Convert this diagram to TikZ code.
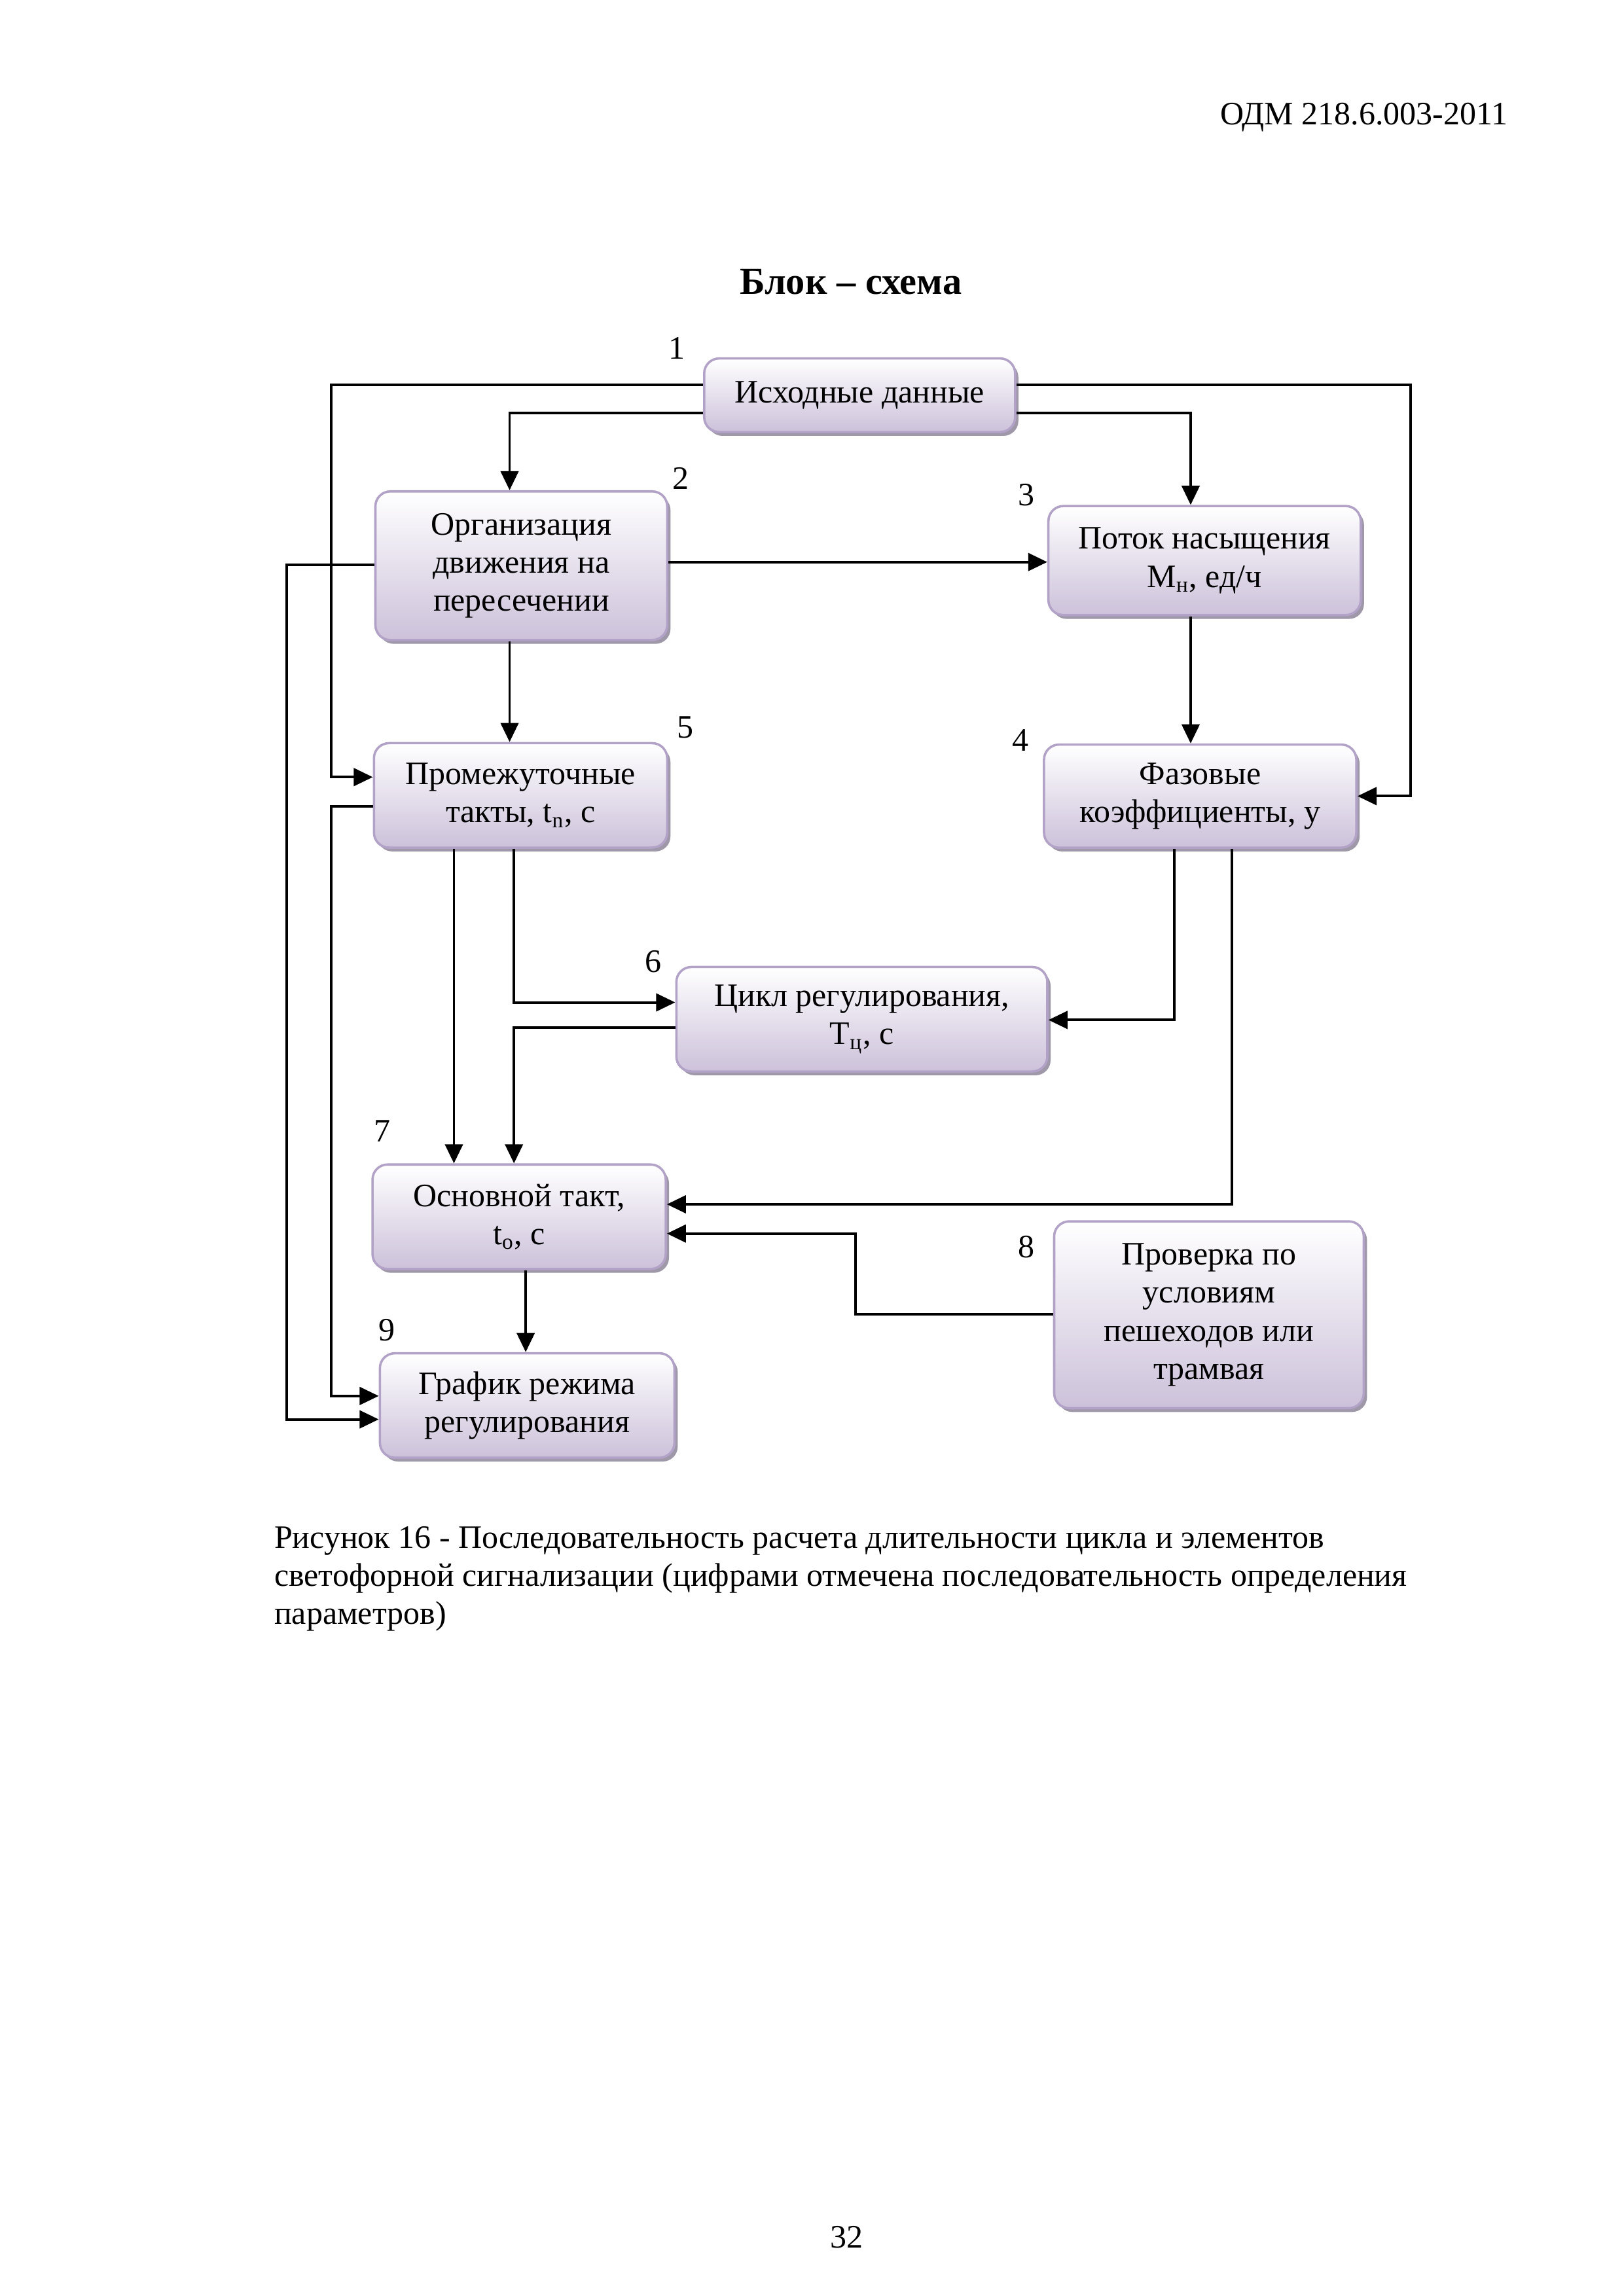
\documentclass[tikz,border=0pt]{standalone}
\usepackage{fontspec}
\setmainfont{Liberation Serif}
\usetikzlibrary{shadows,arrows.meta}
\definecolor{boxedge}{RGB}{178,162,199}
\definecolor{boxbot}{RGB}{204,193,218}
\definecolor{shad}{RGB}{158,152,168}
\begin{document}
\begin{tikzpicture}[
  box/.style={draw=boxedge, line width=0.85pt, rounded corners=5.5pt,
    top color=white, bottom color=boxbot,
    drop shadow={shadow xshift=1.2pt, shadow yshift=-1.4pt, fill=shad, opacity=1},
    align=center, font=\fontsize{12}{14}\selectfont, inner sep=2pt},
  arr/.style={line width=0.95pt, -{Triangle[length=7pt,width=6.5pt]}},
  num/.style={font=\fontsize{12}{14}\selectfont, inner sep=0pt},
  txt/.style={font=\fontsize{12}{14}\selectfont, inner sep=0pt}]
\fill[white] (0pt,0pt) rectangle (595.28pt,-841.89pt);
\useasboundingbox (0pt,0pt) rectangle (595.28pt,-841.89pt);
\begin{scope}[x=0.53699pt, y=-0.53645pt, xshift=0.5pt, yshift=-0.625pt]

\node[txt, anchor=base east] (hdr) at (1029,84) {ОДМ 218.6.003-2011};
\node[txt, anchor=base, font=\fontsize{14}{16}\selectfont\bfseries] (title) at (580,200) {Блок – схема};

\node[box, minimum width=114pt, minimum height=27pt] (b1) at (586,269) {Исходные данные};
\node[box, minimum width=107pt, minimum height=54.5pt] (b2) at (355,385.5) {Организация\\движения на\\пересечении};
\node[box, minimum width=114.5pt, minimum height=40pt] (b3) at (821.5,382) {Поток насыщения\\M\textsubscript{н}, ед/ч};
\node[box, minimum width=114.5pt, minimum height=37.8pt] (b4) at (818.5,543) {Фазовые\\коэффициенты, у};
\node[box, minimum width=107.5pt, minimum height=38.3pt] (b5) at (354.5,542.5) {Промежуточные\\такты, t\textsubscript{n}, с};
\node[box, minimum width=136pt, minimum height=38.3pt] (b6) at (587.5,695.5) {Цикл регулирования,\\T\textsubscript{ц}, с};
\node[box, minimum width=107.5pt, minimum height=38.3pt] (b7) at (353.5,830.5) {Основной такт,\\t\textsubscript{o}, с};
\node[box, minimum width=113.5pt, minimum height=68.5pt] (b8) at (824.5,897.5) {Проверка по\\условиям\\пешеходов или\\трамвая};
\node[box, minimum width=108pt, minimum height=38.3pt] (b9) at (359,959.5) {График режима\\регулирования};

\node[num] (n1) at (461,237) {1};
\node[num] (n2) at (464,326) {2};
\node[num] (n3) at (700,337) {3};
\node[num] (n4) at (696,505) {4};
\node[num] (n5) at (467,496) {5};
\node[num] (n6) at (445,656) {6};
\node[num] (n7) at (260,772) {7};
\node[num] (n8) at (700,851) {8};
\node[num] (n9) at (263,908) {9};

\draw[arr] (b1.west |- 0,262) -| (225,530) -- (b5.west |- 0,530);
\draw[arr] (b1.west |- 0,281) -| (347,0 |- b2.north);
\draw[arr] (b1.east |- 0,262) -| (962,543) -- (b4.east |- 0,543);
\draw[arr] (b1.east |- 0,281) -| (812,0 |- b3.north);
\draw[arr] (b2.east |- 0,383) -- (b3.west |- 0,383);
\draw[arr] (b2.west |- 0,385) -| (195,969) -- (b9.west |- 0,969);
\draw[arr] (347,0 |- b2.south) -- (347,0 |- b5.north);
\draw[arr] (812,0 |- b3.south) -- (812,0 |- b4.north);
\draw[arr] (b5.west |- 0,550) -| (225,953) -- (b9.west |- 0,953);
\draw[arr] (309,0 |- b5.south) -- (309,0 |- b7.north);
\draw[arr] (350,0 |- b5.south) |- (b6.west |- 0,684);
\draw[arr] (b6.west |- 0,701) -| (350,0 |- b7.north);
\draw[arr] (801,0 |- b4.south) |- (b6.east |- 0,696);
\draw[arr] (840,0 |- b4.south) |- (b7.east |- 0,822);
\draw[arr] (b8.west |- 0,897) -| (583,842) -- (b7.east |- 0,842);
\draw[arr] (358,0 |- b7.south) -- (358,0 |- b9.north);

\node[txt, anchor=base west] (cap1) at (186,1057) {Рисунок 16 - Последовательность расчета длительности цикла и элементов};
\node[txt, anchor=base west] (cap2) at (186,1083) {светофорной сигнализации (цифрами отмечена последовательность определения};
\node[txt, anchor=base west] (cap3) at (186,1109) {параметров)};

\node[txt] (page) at (577,1528) {32};
\end{scope}
\end{tikzpicture}
\end{document}
